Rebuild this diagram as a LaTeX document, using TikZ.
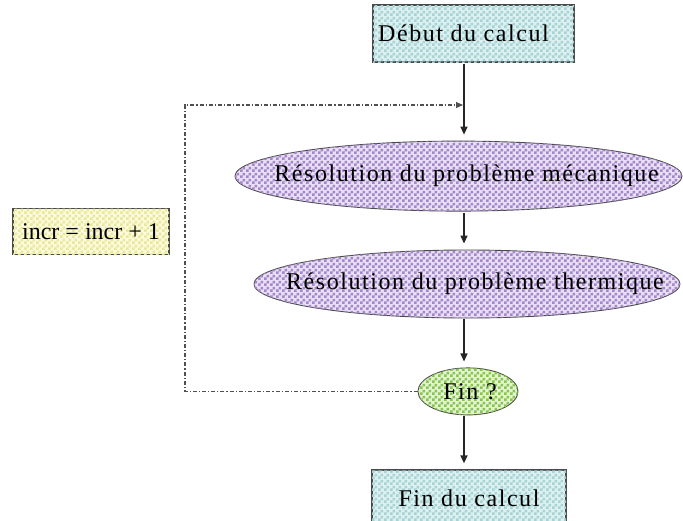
\documentclass[tikz,border=0pt]{standalone}
\usepackage{fontspec}
\setmainfont{Liberation Serif}
\newfontfamily\spacedfont[LetterSpace=6.5]{Liberation Serif}
\usepackage{xcolor}
\usepackage{tikz}
\usetikzlibrary{positioning,arrows.meta,shapes.geometric,patterns.meta}
\definecolor{calcTealBase}{HTML}{DDF0F0}
\definecolor{calcTeal}{HTML}{A6D4D6}
\definecolor{calcLilacBase}{HTML}{E8DFF2}
\definecolor{calcLilac}{HTML}{A486CC}
\definecolor{calcGreenBase}{HTML}{E2F2D2}
\definecolor{calcGreen}{HTML}{86C64C}
\definecolor{calcYellowBase}{HTML}{FBFBDC}
\definecolor{calcYellow}{HTML}{E8E89A}
\definecolor{calcBorder}{HTML}{4A4A4A}
\definecolor{calcLoop}{HTML}{505050}
\pgfdeclarepattern{
  name=calcchecker,
  type=uncolored,
  bottom left={\pgfpoint{0pt}{0pt}},
  top right={\pgfpoint{6pt}{6pt}},
  tile size={\pgfpoint{6pt}{6pt}},
  code={
    \pgfpathrectangle{\pgfpoint{0pt}{0pt}}{\pgfpoint{3pt}{3pt}}
    \pgfpathrectangle{\pgfpoint{3pt}{3pt}}{\pgfpoint{3pt}{3pt}}
    \pgfusepath{fill}
  }
}
\newcommand{\calcfont}{\fontsize{24}{28}\selectfont}
\tikzset{
  calcbox/.style={draw=calcBorder,line width=1.3pt,inner sep=0pt,
    font=\calcfont\spacedfont},
  tealbox/.style={calcbox,fill=calcTealBase,
    postaction={pattern={calcchecker},pattern color=calcTeal}},
  calcoval/.style={ellipse,draw=calcBorder,line width=0.9pt,inner sep=0pt,
    font=\calcfont\spacedfont},
  lilacoval/.style={calcoval,fill=calcLilacBase,
    postaction={pattern={calcchecker},pattern color=calcLilac}},
  flowarrow/.style={-{Triangle[length=8pt,width=7pt]},line width=1.3pt,
    draw=black!85,shorten <=1pt,shorten >=6pt},
  loopline/.style={-{Triangle[length=7pt,width=6pt]},line width=1.1pt,
    draw=calcLoop,dash pattern=on 4pt off 2pt on 1.2pt off 2pt}
}

\begin{document}
\begin{tikzpicture}[x=1pt,y=-1pt]
    \useasboundingbox (0,0) rectangle (683,520);
    \node[tealbox,minimum width=201pt,minimum height=57pt] (debut) at (473.5,33.5)
      {\hspace*{-20pt}Début du calcul};
    \node[lilacoval,minimum width=447pt,minimum height=70pt,below=78pt of debut,
      xshift=-15pt] (meca) {\makebox[0pt]{\hspace*{16pt}Résolution du problème mécanique}};
    \node[lilacoval,minimum width=426pt,minimum height=68pt,below=38pt of meca,
      xshift=8.5pt] (therm) {\makebox[0pt]{\hspace*{16pt}Résolution du problème thermique}};
    \node[calcoval,fill=calcGreenBase,postaction={pattern={calcchecker},pattern color=calcGreen},
      minimum width=100pt,minimum height=47pt,below=49pt of therm,xshift=1pt] (fin)
      {\makebox[0pt]{\hspace*{4pt}Fin ?}};
    \node[tealbox,minimum width=194pt,minimum height=57pt,below=54pt of fin,
      xshift=1pt] (fincalc) {Fin du calcul};
    \node[calcbox,fill=calcYellowBase,postaction={pattern={calcchecker},pattern color=calcYellow},
      font=\calcfont,minimum width=156pt,minimum height=46pt] (incr)
      at (91,231.5) {incr = incr + 1};
    % main flow
    \coordinate (spine) at (464,0);
    \draw[flowarrow] (debut.south -| spine) -- (meca.north -| spine);
    \draw[flowarrow] (meca.south -| spine) -- (therm.north -| spine);
    \draw[flowarrow] (therm.south -| spine) -- (fin.north -| spine);
    \draw[flowarrow] (fin.south -| spine) -- (fincalc.north -| spine);
    % loop back
    \coordinate (loop) at (463,105);
    \coordinate (back) at (185,105);
    \draw[loopline] (fin.west) -| (back) -- (loop);
  \end{tikzpicture}
\end{document}
